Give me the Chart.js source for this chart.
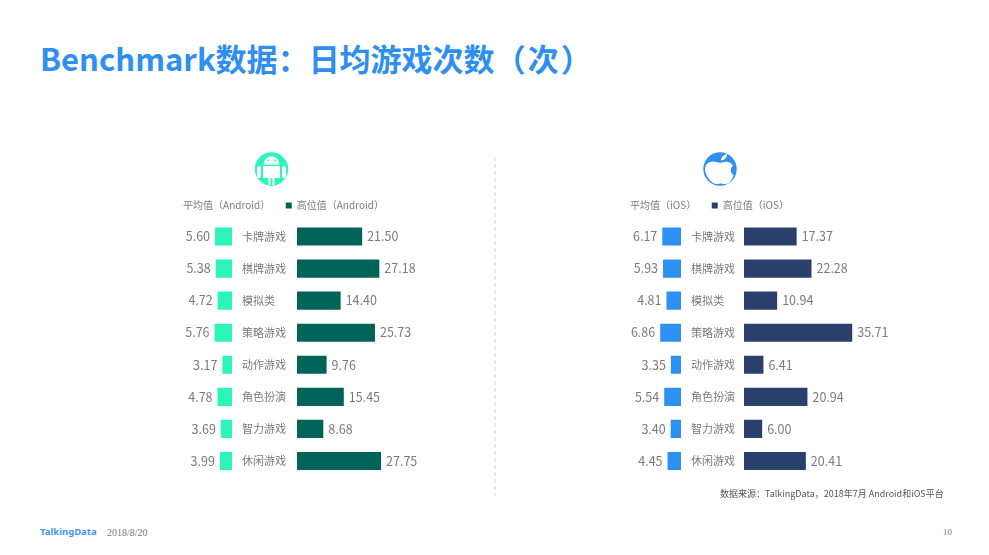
<!DOCTYPE html>
<html lang="zh"><head><meta charset="utf-8">
<script src="https://cdn.jsdelivr.net/npm/chart.js@4"></script>
<style>
html,body{margin:0;padding:0;background:#fff;width:989px;height:555px;overflow:hidden;font-family:"Noto Sans CJK SC","Noto Sans",sans-serif}
.t{position:absolute;white-space:nowrap;line-height:1}
.tc{font-family:"Noto Sans CJK TC"}
canvas{position:absolute}
svg{position:absolute;left:0;top:0}
</style></head><body>
<div class="t" id="title" style="left:40px;top:42px;font-size:31px;font-weight:700;color:#2e8ff0">Benchmark数据<span class="tc">：</span>日均游戏次数<span style="letter-spacing:2px">（</span><span style="letter-spacing:2px">次</span>）</div>
<svg width="989" height="555">
<line x1="495" y1="157" x2="495" y2="496" stroke="#d4d4d4" stroke-width="1" stroke-dasharray="4 3"/>
<g transform="translate(271.5,169)">
<circle r="16.7" fill="#2cf5bb"/>
<path d="M-8,-4.5 A8,8 0 0 1 8,-4.5 Z" fill="#fff"/>
<circle cx="-3.4" cy="-8.5" r="0.9" fill="#2cf5bb"/><circle cx="3.4" cy="-8.5" r="0.9" fill="#2cf5bb"/>
<path d="M-8.5,-3 H8.5 V9 H3 V16 H-3 V9 H-8.5 Z" fill="#fff"/>
<rect x="-1" y="9" width="2" height="8" fill="#2cf5bb"/>
<rect x="-14.5" y="-3" width="4" height="12" rx="2" fill="#fff"/><rect x="10.5" y="-3" width="4" height="12" rx="2" fill="#fff"/>
</g>
<g transform="translate(720,169)">
<circle r="16.7" fill="#2d90f3"/>
<path d="M-4,-7 C-1,-6 1,-6 5,-7 C8,-8 11,-6 13,-3.5 C10,-1 10,4 13.5,6 C12,11 9,15.5 5,15 C2,14.5 0,14 -3,15 C-8,15.5 -15,7 -15,0 C-15,-6 -9,-9 -4,-7 Z" fill="#fff"/>
<path d="M1,-8.5 C1,-12 4,-14.5 7,-15 C7,-12 5,-9 1,-8.5 Z" fill="#fff"/>
</g>
</svg>
<canvas id="cAndroid" width="316" height="304" style="left:120px;top:185px;width:316px;height:304px"></canvas>
<canvas id="cIOS" width="388" height="304" style="left:510px;top:185px;width:388px;height:304px"></canvas>
<div class="t" style="left:720px;top:489px;font-size:9px;color:#555">数据来源<span class="tc">：</span>TalkingData<span class="tc">，</span>2018年7月 Android和iOS平台</div>
<div class="t" style="left:40px;top:527px;font-size:9.5px;font-weight:700;color:#3f97f5;font-family:'Noto Sans',sans-serif">TalkingData</div>
<div class="t" style="left:107px;top:528px;font-size:10px;color:#777;font-family:'Liberation Serif',serif">2018/8/20</div>
<div class="t" style="left:943px;top:528px;font-size:9px;color:#777;font-family:'Liberation Serif',serif">10</div>
<script>
const categories = ["卡牌游戏","棋牌游戏","模拟类","策略游戏","动作游戏","角色扮演","智力游戏","休闲游戏"];
const androidMean = [5.60,5.38,4.72,5.76,3.17,4.78,3.69,3.99];
const androidHigh = [21.50,27.18,14.40,25.73,9.76,15.45,8.68,27.75];
const iosMean = [6.17,5.93,4.81,6.86,3.35,5.54,3.40,4.45];
const iosHigh = [17.37,22.28,10.94,35.71,6.41,20.94,6.00,20.41];
const FONT = '"Noto Sans CJK SC","Noto Sans",sans-serif';
const GREY = '#7a7a7a';
const PX_PER_UNIT = 3.03;

const valueLabels = {
  id:'valueLabels',
  afterDatasetsDraw(chart){
    const c = chart.ctx;
    c.save();
    c.font = '12.5px '+FONT; c.fillStyle = GREY; c.textBaseline='middle';
    chart.data.datasets.forEach((ds,i)=>{
      chart.getDatasetMeta(i).data.forEach((bar,j)=>{
        const txt = ds.data[j].toFixed(2);
        if(i===0){c.textAlign='right';c.fillText(txt,bar.x-5,bar.y);}
        else{c.textAlign='left';c.fillText(txt,bar.x+5,bar.y);}
      });
    });
    c.restore();
  }
};

function panel(id, meanData, highData, meanName, highName, meanColor, highColor, left, width, zeroMean, zeroHigh, labelLeft){
  new Chart(document.getElementById(id),{
    type:'bar',
    plugins:[valueLabels],
    data:{labels:categories,datasets:[
      {label:meanName,data:meanData,xAxisID:'xMean',backgroundColor:meanColor,borderWidth:0,grouped:false,categoryPercentage:1,barPercentage:18/31.8},
      {label:highName,data:highData,xAxisID:'xHigh',backgroundColor:highColor,borderWidth:0,grouped:false,categoryPercentage:1,barPercentage:18/31.8}
    ]},
    options:{
      indexAxis:'y',responsive:false,animation:false,devicePixelRatio:1,
      layout:{padding:{top:0,left:0,right:0,bottom:12}},
      plugins:{
        tooltip:{enabled:false},
        legend:{display:true,position:'top',onClick:null,labels:{
          boxWidth:6,boxHeight:6,padding:15.5,color:GREY,font:{family:FONT,size:10},
          generateLabels(chart){
            return chart.data.datasets.map((d,i)=>({
              text:d.label,datasetIndex:i,lineWidth:0,
              fillStyle:i===0?'rgba(0,0,0,0)':d.backgroundColor,
              strokeStyle:'rgba(0,0,0,0)',fontColor:GREY
            }));
          }
        }}
      },
      scales:{
        xMean:{type:'linear',axis:'x',display:false,reverse:true,
          min:-(left+width-zeroMean)/PX_PER_UNIT,max:(zeroMean-left)/PX_PER_UNIT,grid:{display:false}},
        xHigh:{type:'linear',axis:'x',display:false,
          min:-(zeroHigh-left)/PX_PER_UNIT,max:(left+width-zeroHigh)/PX_PER_UNIT,grid:{display:false}},
        y:{type:'category',position:'left',grid:{display:false,drawTicks:false},border:{display:false},
          afterFit(s){s.paddingTop=0;s.paddingBottom=0;s.width=0;},
          ticks:{color:GREY,mirror:true,padding:labelLeft-left,font:{family:FONT,size:11},autoSkip:false}}
      }
    }
  });
}
panel('cAndroid',androidMean,androidHigh,'平均值（Android）','高位值（Android）','#2cf5bb','#006357',120,316,232,297,242);
panel('cIOS',iosMean,iosHigh,'平均值（iOS）','高位值（iOS）','#2d90f3','#2b3f6d',510,388,681,744,691);
</script>
</body></html>
